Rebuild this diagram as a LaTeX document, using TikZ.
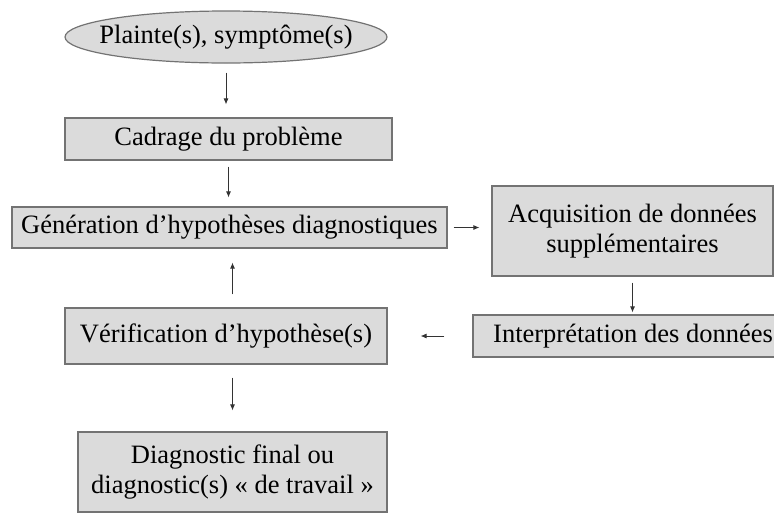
\documentclass[tikz,border=0pt]{standalone}
\usepackage{fontspec}
\setmainfont{Liberation Serif}
\usetikzlibrary{arrows.meta,shapes.geometric}
\definecolor{boxfill}{gray}{0.86}
\definecolor{boxline}{gray}{0.45}
\definecolor{arr}{gray}{0.2}
\tikzset{
  stepbox/.style={draw=boxline, line width=1.2pt, fill=boxfill, inner sep=0pt, font=\fontsize{26.5}{30}\selectfont, align=center},
  conn/.style={draw=arr, line width=0.8pt, -{Latex[length=6pt,width=5pt]}}
}
\begin{document}
\begin{tikzpicture}[x=1pt,y=-1pt]
\useasboundingbox (0,0) rectangle (774,512);
\node[stepbox, ellipse, minimum width=322pt, minimum height=52pt,
  label={[font=\fontsize{26.5}{30}\selectfont]center:Plainte(s), symptôme(s)}] (p) at (226,37) {};
\node[stepbox, minimum width=327pt, minimum height=42pt] (c) at (228.5,139) {Cadrage du problème};
\node[stepbox, minimum width=435pt, minimum height=41pt] (g) at (229.5,227.5) {Génération d’hypothèses diagnostiques};
\node[stepbox, minimum width=281pt, minimum height=90pt] (a) at (632.5,231) {Acquisition de données\\supplémentaires};
\node[stepbox, minimum width=320pt, minimum height=42pt] (i) at (633,336) {Interprétation des données};
\node[stepbox, minimum width=322pt, minimum height=56pt] (v) at (226,336) {Vérification d’hypothèse(s)};
\node[stepbox, minimum width=309pt, minimum height=80pt] (d) at (232.5,472) {Diagnostic final ou\\diagnostic(s) « de travail »};
\draw[conn] ([yshift=-9pt]p.south) -- ([yshift=13pt]c.north -| p.south);
\draw[conn] ([yshift=-6pt]c.south) -- ([yshift=9pt]g.north -| c.south);
\draw[conn] ([xshift=6pt]g.east) -- ([xshift=-12pt]g.east -| a.west);
\draw[conn] ([yshift=-6pt]a.south) -- ([yshift=2pt]i.north -| a.south);
\draw[conn] ([xshift=-28pt]i.west) -- ([xshift=33pt]i.west -| v.east);
\draw[conn] ([yshift=13pt]v.north -| d.north) -- ([yshift=-14pt]g.south -| d.north);
\draw[conn] ([yshift=-13pt]v.south -| d.north) -- ([yshift=21pt]d.north);
\end{tikzpicture}
\end{document}
